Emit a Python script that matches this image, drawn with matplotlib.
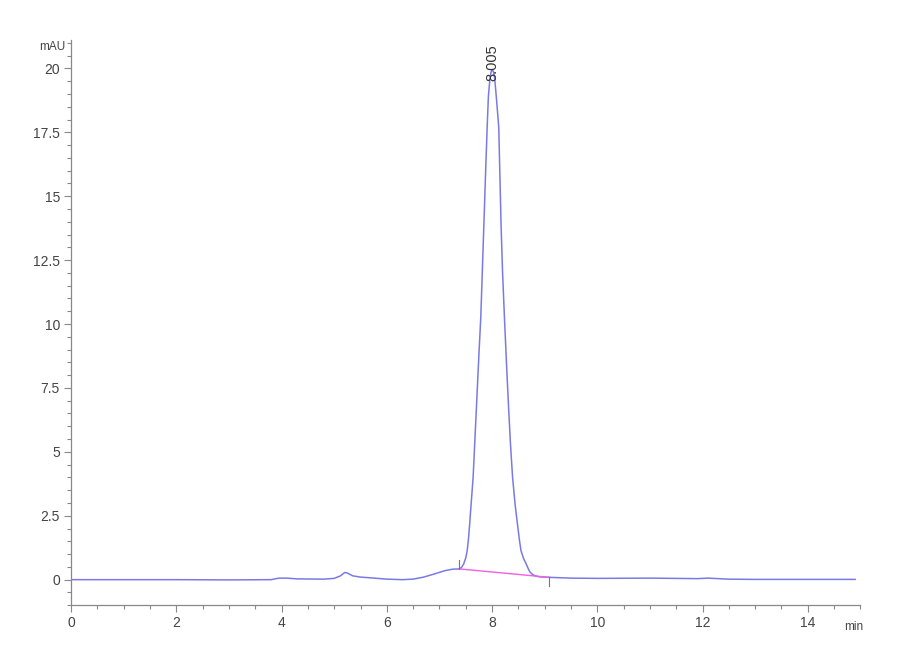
import numpy as np
import matplotlib.pyplot as plt

# chromatogram trace (time in min, signal in mAU)
t = [0.0, 1.0, 2.0, 3.0, 3.8, 3.95, 4.1, 4.3, 4.8, 5.0, 5.12, 5.2, 5.25, 5.35,
     5.5, 5.7, 6.0, 6.3, 6.5, 6.7, 6.9, 7.1, 7.25, 7.38, 7.42, 7.46, 7.50,
     7.527, 7.55, 7.57, 7.60, 7.64, 7.70, 7.75, 7.786, 7.843, 7.88, 7.907,
     7.93, 7.96, 7.98, 8.005, 8.03, 8.05, 8.08, 8.10, 8.127, 8.172, 8.20,
     8.235, 8.28, 8.317, 8.35, 8.39, 8.44, 8.49, 8.52, 8.55, 8.60, 8.65,
     8.69, 8.72, 8.77, 8.82, 8.90, 9.09, 9.5, 10.0, 11.0, 11.9, 12.1, 12.5,
     13.0, 14.0, 14.9]
mau = [0.0, 0.0, 0.0, -0.01, 0.0, 0.06, 0.06, 0.03, 0.02, 0.05, 0.15, 0.28,
       0.26, 0.15, 0.1, 0.07, 0.02, 0.0, 0.02, 0.1, 0.22, 0.35, 0.41, 0.42,
       0.48, 0.61, 0.85, 1.13, 1.55, 2.05, 2.9, 4.0, 6.61, 8.8, 10.27, 13.8,
       16.1, 17.7, 18.9, 19.6, 19.85, 19.95, 19.85, 19.6, 18.9, 18.4, 17.7,
       13.8, 12.0, 10.27, 8.2, 6.61, 5.3, 4.0, 2.9, 2.05, 1.55, 1.13, 0.82,
       0.61, 0.42, 0.3, 0.2, 0.15, 0.11, 0.09, 0.06, 0.05, 0.06, 0.04, 0.06,
       0.02, 0.01, 0.01, 0.01]

# integration baseline of the main peak
base_t = [7.38, 9.09]
base_y = [0.42, 0.09]
peak_rt = 8.005
peak_h = 19.95

plt.rcParams['font.family'] = ['Liberation Sans', 'DejaVu Sans']

fig = plt.figure(figsize=(9, 6.6), dpi=100)
ax = fig.add_axes([0.079, 0.083, 0.877, 0.856])

ax.plot(t, mau, color='#7a7ae6', lw=1.1)
ax.plot(base_t, base_y, color='#f060e0', lw=1.0)
# small start / end marks of the integration
ax.plot([base_t[0], base_t[0]], [base_y[0], base_y[0] + 0.35], color='#777777', lw=0.8)
ax.plot([base_t[1], base_t[1]], [base_y[1], base_y[1] - 0.35], color='#777777', lw=0.8)

ax.text(peak_rt, peak_h - 0.45, '%.3f' % peak_rt, rotation=90, ha='center', va='bottom',
        fontsize=10.5, color='#333333')

ax.set_xlim(0, 15)
ax.set_ylim(-1, 21.1)
ax.set_xticks([0, 2, 4, 6, 8, 10, 12, 14])
ax.set_xticks(np.arange(0, 15.01, 0.5), minor=True)
ax.set_yticks([0, 2.5, 5, 7.5, 10, 12.5, 15, 17.5, 20])
ax.set_yticklabels(['0', '2.5', '5', '7.5', '10', '12.5', '15', '17.5', '20'])
ax.set_yticks(np.arange(-1, 21.01, 0.5), minor=True)

for s in ['top', 'right']:
    ax.spines[s].set_visible(False)
for s in ['left', 'bottom']:
    ax.spines[s].set_color('#888888')
    ax.spines[s].set_linewidth(0.9)

ax.tick_params(which='major', length=5, width=0.8, color='#888888',
               labelsize=10, labelcolor='#444444', pad=3)
ax.tick_params(which='minor', length=3, width=0.8, color='#888888')

fig.text(0.043, 0.925, 'mAU', fontsize=8.5, color='#444444')
fig.text(0.938, 0.045, 'min', fontsize=8.5, color='#444444')

fig.savefig('out.png', dpi=100)
